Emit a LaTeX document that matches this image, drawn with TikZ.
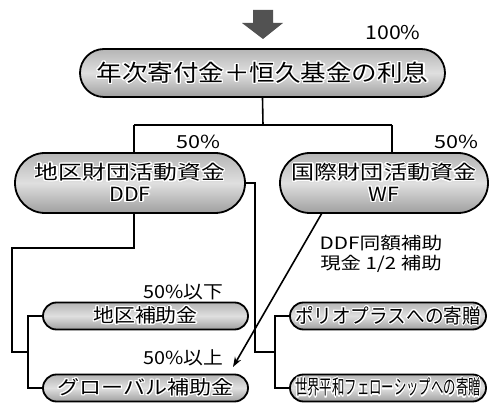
\documentclass[tikz,border=0pt]{standalone}
\usepackage{fontspec}
\usepackage{graphicx}
\usepackage{contour}
\contourlength{1.1pt}
\newfontfamily\jp{Noto Sans CJK JP}
\usetikzlibrary{arrows.meta}
\newcommand{\jt}[3]{{\jp\fontsize{#1}{#1}\selectfont\scalebox{#2}[1]{\contour{white}{#3}}}}
\newcommand{\jl}[3]{{\jp\fontsize{#1}{#1}\selectfont\scalebox{#2}[1]{#3}}}
\tikzset{
  pill/.style={draw=black, line width=1.8pt, inner sep=0pt,
    top color=gray!58, bottom color=gray!75, middle color=gray!25},
  big/.style={pill, minimum width=365pt, minimum height=48pt, rounded corners=24pt},
  fund/.style={pill, minimum height=60pt, rounded corners=30pt, align=center,
    font=\fontsize{19}{22}\selectfont},
  grant/.style={pill, minimum width=205pt, minimum height=27pt, rounded corners=13.5pt},
  gift/.style={pill, minimum width=196pt, minimum height=27pt, rounded corners=13.5pt},
  conn/.style={draw=black, line width=1.6pt},
  lbl/.style={inner sep=0pt}
}
\begin{document}
\begin{tikzpicture}[x=1pt,y=1pt]
\useasboundingbox (0,0) rectangle (498,404);
% block arrow
\fill[black!68] (253,394) -- (273,394) -- (273,381) -- (283,381) -- (263,365)
  -- (242,381) -- (253,381) -- cycle;
% nodes
\node[big] (top) at (262.5,331) {\jt{23}{1.11}{年次寄付金＋恒久基金の利息}};
\node[fund, minimum width=230pt] (ddf) at (130,221)
  {\jt{19.5}{1.22}{地区財団活動資金}\\\jt{19.5}{1.1}{DDF}};
\node[fund, minimum width=208pt] (wf) at (384,221)
  {\jt{19.5}{1.18}{国際財団活動資金}\\\jt{19.5}{1.1}{WF}};
\node[grant] (loc) at (145.5,88) {\jt{19}{1.1}{地区補助金}};
\node[grant] (glob) at (145.5,16) {\jt{19}{1.16}{グローバル補助金}};
\node[gift] (polio) at (388,88) {\jt{20}{0.93}{ポリオプラスへの寄贈}};
\node[gift] (peace) at (388,16) {\jt{20}{0.62}{世界平和フェローシップへの寄贈}};
% labels
\node[lbl] (p100) at (393,371) {\jl{19}{1.12}{100\%}};
\node[lbl] (p50a) at (198,262) {\jl{18}{1.2}{50\%}};
\node[lbl] (p50b) at (456,262) {\jl{18}{1.2}{50\%}};
\node[lbl] (under) at (183,112) {\jl{18}{1.1}{50\%以下}};
\node[lbl] (over) at (183,46) {\jl{18}{1.1}{50\%以上}};
\node[lbl, align=center, font=\fontsize{17}{20}\selectfont] (match) at (381,150)
  {\jl{17}{1.22}{DDF同額補助}\\\jl{17}{1.2}{現金 1/2 補助}};
% coordinates
\coordinate (j) at (263,279);
\coordinate (dl) at (12,156);
\coordinate (lb) at (28,52);
\coordinate (rb) at (275,52);
\coordinate (dr) at (255,221);
% connectors
\draw[conn] (top.south) -- (j);
\draw[conn] (134,279) -- (392,279);
\draw[conn] (134,279) -- (134,251);
\draw[conn] (392,279) -- (392,251);
\draw[conn] (134,191) |- (dl) |- (lb);
\draw[conn] (loc.west) -| (28,16) -- (glob.west);
\draw[conn] (ddf.east) -- (dr) |- (rb);
\draw[conn] (polio.west) -| (275,16) -- (peace.west);
\draw[conn, -{Stealth[length=10pt,width=7pt]}] (322,191) -- (233,37);
\end{tikzpicture}
\end{document}
